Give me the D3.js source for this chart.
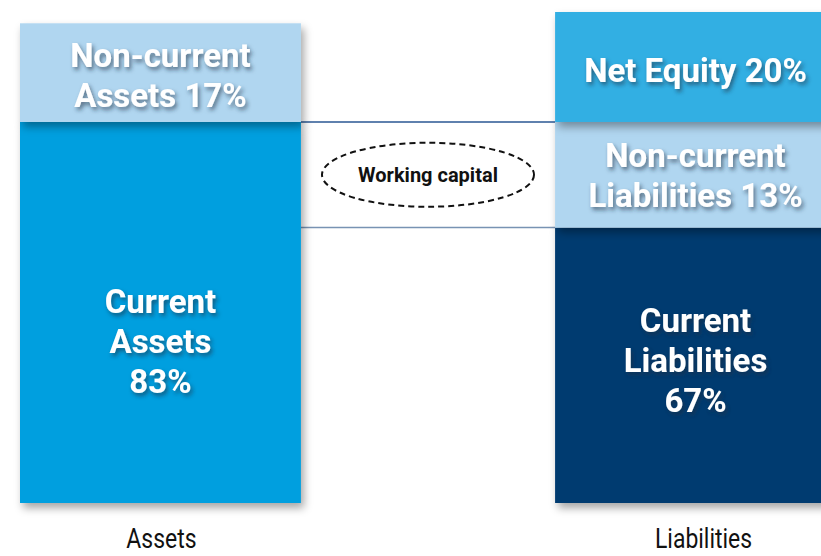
<!DOCTYPE html>
<html>
<head>
<meta charset="utf-8">
<script src="https://cdn.jsdelivr.net/npm/d3@7"></script>
<style>
  body { margin: 0; background: #fff; }
  svg { display: block; }
</style>
</head>
<body>
<div id="wrapper"></div>
<script>
// columns
const columns = ["Assets", "Liabilities"]

// segments, listed bottom to top
const assetNames = ["Current Assets", "Non-current Assets"]
const assetPct = [83, 17]
const assetDrawn = [77.6, 20.1]     // heights as drawn in the picture (share of right bar)
const liabNames = ["Current Liabilities", "Non-current Liabilities", "Net Equity"]
const liabPct = [67, 13, 20]
const liabDrawn = [56.1, 21.5, 22.4]

const labelLines = {
    "Current Assets": ["Current", "Assets", "83%"],
    "Non-current Assets": ["Non-current", "Assets 17%"],
    "Current Liabilities": ["Current", "Liabilities", "67%"],
    "Non-current Liabilities": ["Non-current", "Liabilities 13%"],
    "Net Equity": ["Net Equity 20%"]
}

const colors = {
    "Current Assets": "#009fdf",
    "Non-current Assets": "#b0d6f0",
    "Current Liabilities": "#003a70",
    "Non-current Liabilities": "#b0d6f0",
    "Net Equity": "#33afe3"
}
// vertical nudge of each label block from segment middle
const labelDy = {
    "Current Assets": 29,
    "Non-current Assets": 2,
    "Current Liabilities": -5,
    "Non-current Liabilities": 0,
    "Net Equity": 3
}

const dimensions = { width: 821, height: 556 }
const svg = d3.select("#wrapper").append("svg")
    .attr("width", dimensions.width).attr("height", dimensions.height)

const defs = svg.append("defs")
defs.append("filter").attr("id", "barShadow")
    .attr("x", "-10%").attr("y", "-10%").attr("width", "130%").attr("height", "130%")
    .append("feDropShadow").attr("dx", 3).attr("dy", 5).attr("stdDeviation", 4)
    .attr("flood-color", "#000").attr("flood-opacity", 0.35)
defs.append("filter").attr("id", "textShadow")
    .attr("x", "-10%").attr("y", "-30%").attr("width", "130%").attr("height", "170%")
    .append("feDropShadow").attr("dx", 2).attr("dy", 3).attr("stdDeviation", 2)
    .attr("flood-color", "#1a2a40").attr("flood-opacity", 0.6)

const xScale = d3.scaleBand().domain(columns).range([20, 836]).paddingInner(0.475).paddingOuter(0)
const yScale = d3.scaleLinear().domain([0, 100]).range([503, 12])

function stackUp(names, pct, drawn, col) {
    let acc = 0
    return names.map((n, i) => {
        const d = { name: n, pct: pct[i], col: col, y0: acc, y1: acc + drawn[i] }
        acc += drawn[i]
        return d
    })
}
const assetSegs = stackUp(assetNames, assetPct, assetDrawn, "Assets")
const liabSegs = stackUp(liabNames, liabPct, liabDrawn, "Liabilities")

// connecting lines at the top of the current segments
const links = [
    { y: yScale(assetSegs[0].y1), color: "#2a5793" },
    { y: yScale(liabSegs[0].y1), color: "#7893b3" }
]
svg.selectAll("line.link").data(links).enter().append("line")
    .attr("class", "link")
    .attr("x1", xScale("Assets") + xScale.bandwidth())
    .attr("x2", xScale("Liabilities"))
    .attr("y1", d => d.y).attr("y2", d => d.y)
    .attr("stroke", d => d.color).attr("stroke-width", 1.5)

// bars (drawn bottom first so upper segments cast shadow downward)
const segs = assetSegs.concat(liabSegs)
svg.selectAll("rect.seg").data(segs).enter().append("rect")
    .attr("class", "seg")
    .attr("x", d => xScale(d.col))
    .attr("width", xScale.bandwidth())
    .attr("y", d => yScale(d.y1))
    .attr("height", d => yScale(d.y0) - yScale(d.y1))
    .attr("fill", d => colors[d.name])
    .attr("filter", "url(#barShadow)")

// segment labels
const lineH = 40
const labels = svg.selectAll("g.lab").data(segs).enter().append("g")
    .attr("class", "lab")
    .attr("transform", d => {
        const cx = xScale(d.col) + xScale.bandwidth() / 2
        const cy = (yScale(d.y0) + yScale(d.y1)) / 2 + labelDy[d.name]
        return `translate(${cx},${cy})`
    })
    .attr("filter", "url(#textShadow)")
labels.each(function (d) {
    const lines = labelLines[d.name]
    const g = d3.select(this)
    lines.forEach((t, i) => {
        g.append("text")
            .attr("x", 0)
            .attr("y", (i - (lines.length - 1) / 2) * lineH + 12)
            .attr("text-anchor", "middle")
            .style("font-family", "Roboto, sans-serif")
            .style("font-weight", "bold")
            .style("font-size", "33px")
            .style("fill", "#fff")
            .text(t)
    })
})

// working capital ellipse
const wcX = (xScale("Assets") + xScale.bandwidth() + xScale("Liabilities")) / 2
const wcY = (links[0].y + links[1].y) / 2
svg.append("ellipse")
    .attr("cx", wcX).attr("cy", wcY)
    .attr("rx", 106).attr("ry", 32)
    .attr("fill", "none").attr("stroke", "#111").attr("stroke-width", 2)
    .attr("stroke-dasharray", "6,4")
svg.append("text")
    .attr("transform", `translate(${wcX},${wcY + 7})`)
    .attr("text-anchor", "middle")
    .style("font-family", "Roboto, sans-serif")
    .style("font-weight", "bold")
    .style("font-size", "20px")
    .style("fill", "#111")
    .text("Working capital")

// column labels
svg.selectAll("text.col").data(columns).enter().append("text")
    .attr("class", "col")
    .attr("transform", d => `translate(${xScale(d) + xScale.bandwidth() / 2 + (d === "Liabilities" ? 8 : 1)},548) scale(0.82,1)`)
    .attr("text-anchor", "middle")
    .style("font-family", "Roboto, sans-serif")
    .style("font-size", "28px")
    .style("fill", "#111")
    .text(d => d)
</script>
</body>
</html>
